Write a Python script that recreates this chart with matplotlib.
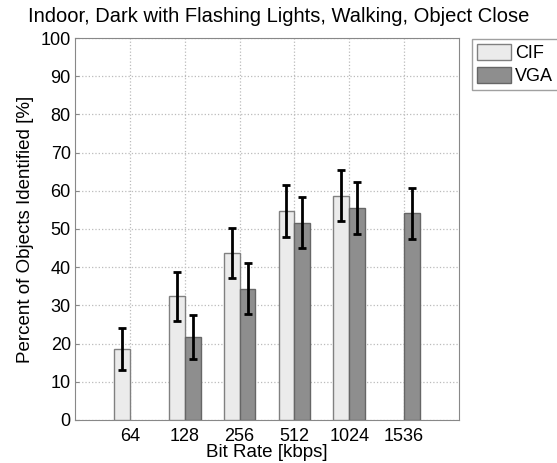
import numpy as np
import matplotlib
matplotlib.use("Agg")
import matplotlib.pyplot as plt

rates = ["64", "128", "256", "512", "1024", "1536"]
cif_mean = [18.6, 32.4, 43.7, 54.8, 58.7, np.nan]
cif_err = [5.4, 6.4, 6.6, 6.8, 6.7, np.nan]
vga_mean = [np.nan, 21.7, 34.4, 51.7, 55.6, 54.1]
vga_err = [np.nan, 5.7, 6.6, 6.7, 6.8, 6.7]

plt.rcParams["font.family"] = ["Liberation Sans", "DejaVu Sans"]
plt.rcParams["font.size"] = 12

fig = plt.figure(figsize=(5.57, 4.63), dpi=100)
ax = fig.add_axes([0.1346, 0.0929, 0.6895, 0.8250])

x = np.arange(1, len(rates) + 1)
w = 0.29
ekw = dict(ecolor="black", elinewidth=2, capsize=3, capthick=2)
ax.bar(x - w / 2, cif_mean, w, yerr=cif_err, color="#ebebeb", edgecolor="#808080",
       linewidth=1, error_kw=ekw, label="CIF", zorder=3)
ax.bar(x + w / 2, vga_mean, w, yerr=vga_err, color="#8e8e8e", edgecolor="#666666",
       linewidth=1, error_kw=ekw, label="VGA", zorder=3)

ax.set_xlim(0, 7)
ax.set_ylim(0, 100)
ax.set_xticks(x)
ax.set_xticklabels(rates)
ax.set_yticks(np.arange(0, 101, 10))
ax.tick_params(direction="in", length=3, color="#888888", pad=3, labelsize=13)
ax.tick_params(axis="x", pad=6)
ax.grid(True, ls=":", color="#bbbbbb", lw=0.9, zorder=0)
ax.set_axisbelow(True)
for s in ax.spines.values():
    s.set_color("#888888")

fig.text(0.5, 0.964, "Indoor, Dark with Flashing Lights, Walking, Object Close",
         ha="center", va="center", fontsize=14.5)
ax.set_xlabel("Bit Rate [kbps]", labelpad=-1, fontsize=13.5)
ax.set_ylabel("Percent of Objects Identified [%]", labelpad=5, fontsize=13.5)

leg = ax.legend(loc="upper left", bbox_to_anchor=(1.034, 0.997), frameon=True,
                fancybox=False, borderpad=0.28, handlelength=1.88, handleheight=1.0,
                handletextpad=0.2, labelspacing=0.25, borderaxespad=0, fontsize=13)
leg.get_frame().set_edgecolor("#888888")

fig.savefig("out.png", dpi=100)
